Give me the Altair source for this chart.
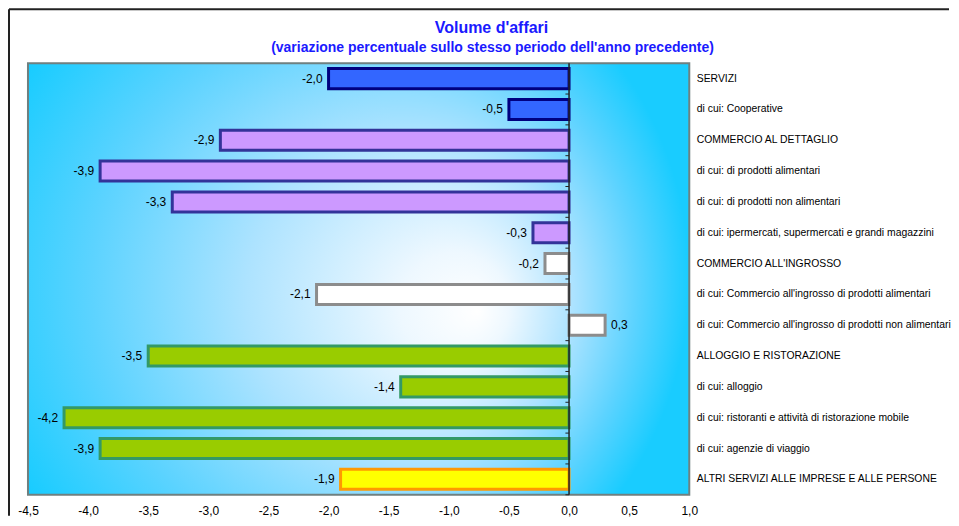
import altair as alt
import pandas as pd

categories = [
    "SERVIZI",
    "di cui: Cooperative",
    "COMMERCIO AL DETTAGLIO",
    "di cui: di prodotti alimentari",
    "di cui: di prodotti non alimentari",
    "di cui: ipermercati, supermercati e grandi magazzini",
    "COMMERCIO ALL'INGROSSO",
    "di cui: Commercio all'ingrosso di prodotti alimentari",
    "di cui: Commercio all'ingrosso di prodotti non alimentari",
    "ALLOGGIO E RISTORAZIONE",
    "di cui: alloggio",
    "di cui: ristoranti e attività di ristorazione mobile",
    "di cui: agenzie di viaggio",
    "ALTRI SERVIZI ALLE IMPRESE E ALLE PERSONE",
]
values = [-2.0, -0.5, -2.9, -3.9, -3.3, -0.3, -0.2, -2.1, 0.3, -3.5, -1.4, -4.2, -3.9, -1.9]
sectors = ["Servizi"] * 2 + ["Dettaglio"] * 4 + ["Ingrosso"] * 3 + ["Alloggio"] * 4 + ["Altri"]
x_ticks = [-4.5, -4.0, -3.5, -3.0, -2.5, -2.0, -1.5, -1.0, -0.5, 0.0, 0.5, 1.0]
title_text = "Volume d'affari"
subtitle_text = "(variazione percentuale sullo stesso periodo dell'anno precedente)"

sector_domain = ["Servizi", "Dettaglio", "Ingrosso", "Alloggio", "Altri"]
fill_range = ["#3366ff", "#cc99ff", "#ffffff", "#99cc00", "#ffff00"]
stroke_range = ["#000080", "#333399", "#8c8c8c", "#339966", "#ff9900"]

df = pd.DataFrame({"cat": categories, "val": values, "sector": sectors})

W, H = 662, 432
FONT = "Liberation Sans"
FMT = "replace(replace(format({v}, '.1f'), '\u2212', '-'), '.', ',')"

x_scale = alt.Scale(domain=[-4.5, 1.0], nice=False, zero=False)
y_scale = alt.Scale(paddingInner=0.35, paddingOuter=0.175)
half_gap = H / len(categories) * 0.35 / 2

gradient = {
    "gradient": "radial",
    "x1": 0.68, "y1": 0.55, "r1": 0,
    "x2": 0.45, "y2": 0.5, "r2": 0.55,
    "stops": [
        {"offset": 0.0, "color": "#ffffff"},
        {"offset": 0.15, "color": "#eef8ff"},
        {"offset": 0.45, "color": "#ade3ff"},
        {"offset": 0.75, "color": "#5cd3ff"},
        {"offset": 1.0, "color": "#19ccff"},
    ],
}

one = alt.Data(values=[{}])

bg = alt.Chart(one).mark_rect(fill=gradient, stroke="#6f8080", strokeWidth=2).encode(
    x=alt.value(0), x2=alt.value(W), y=alt.value(0), y2=alt.value(H)
)

frame_top = alt.Chart(one).mark_rule(color="#222222", strokeWidth=2).encode(
    x=alt.value(-19), x2=alt.value(W + 260), y=alt.value(-54)
)
frame_left = alt.Chart(one).mark_rule(color="#222222", strokeWidth=2).encode(
    x=alt.value(-19), y=alt.value(-54), y2=alt.value(H + 21)
)

title = alt.Chart(one).mark_text(
    text=title_text, font=FONT, fontSize=16, fontWeight="bold", color="#1a1aff",
    align="center", baseline="middle"
).encode(x=alt.value(464), y=alt.value(-35))
subtitle = alt.Chart(one).mark_text(
    text=subtitle_text, font=FONT, fontSize=14, fontWeight="bold", color="#1a1aff",
    align="center", baseline="middle"
).encode(x=alt.value(465), y=alt.value(-15))

base = alt.Chart(df)

bars = base.mark_bar(strokeWidth=3).encode(
    x=alt.X(
        "val:Q", scale=x_scale, title=None,
        axis=alt.Axis(
            values=x_ticks, grid=False, domain=False, ticks=False, labelFlush=False,
            labelPadding=11, labelFontSize=12, labelFont=FONT, labelColor="#000000",
            labelExpr=FMT.format(v="datum.value"),
        ),
    ),
    x2=alt.datum(0),
    y=alt.Y(
        "cat:N", sort=categories, scale=y_scale, title=None,
        axis=alt.Axis(
            orient="right", domain=False, ticks=False, labelPadding=7,
            labelFontSize=10.4, labelFont=FONT, labelColor="#000000", labelLimit=400,
        ),
    ),
    fill=alt.Fill("sector:N", scale=alt.Scale(domain=sector_domain, range=fill_range), legend=None),
    stroke=alt.Stroke("sector:N", scale=alt.Scale(domain=sector_domain, range=stroke_range), legend=None),
)

zero = alt.Chart(one).mark_rule(color="#222222", strokeWidth=1.5).encode(x=alt.datum(0))

zero_ticks = base.mark_rule(color="#222222", strokeWidth=1, yOffset=half_gap).encode(
    x=alt.datum(0), x2=alt.datum(-0.03),
    y=alt.Y("cat:N", sort=categories, scale=y_scale, bandPosition=1),
)

lab_neg = base.transform_filter("datum.val < 0").transform_calculate(
    lbl=FMT.format(v="datum.val")
).mark_text(align="right", baseline="middle", dx=-6, font=FONT, fontSize=12, color="#000000").encode(
    x=alt.X("val:Q", scale=x_scale), y=alt.Y("cat:N", sort=categories, scale=y_scale), text="lbl:N"
)
lab_pos = base.transform_filter("datum.val >= 0").transform_calculate(
    lbl=FMT.format(v="datum.val")
).mark_text(align="left", baseline="middle", dx=6, font=FONT, fontSize=12, color="#000000").encode(
    x=alt.X("val:Q", scale=x_scale), y=alt.Y("cat:N", sort=categories, scale=y_scale), text="lbl:N"
)

chart = alt.layer(
    bg, frame_top, frame_left, title, subtitle, bars, zero_ticks, zero, lab_neg, lab_pos
).properties(
    width=W, height=H, padding=0
).configure_view(stroke=None)

chart.save("out.html", embed_options={"renderer": "svg", "actions": False})
